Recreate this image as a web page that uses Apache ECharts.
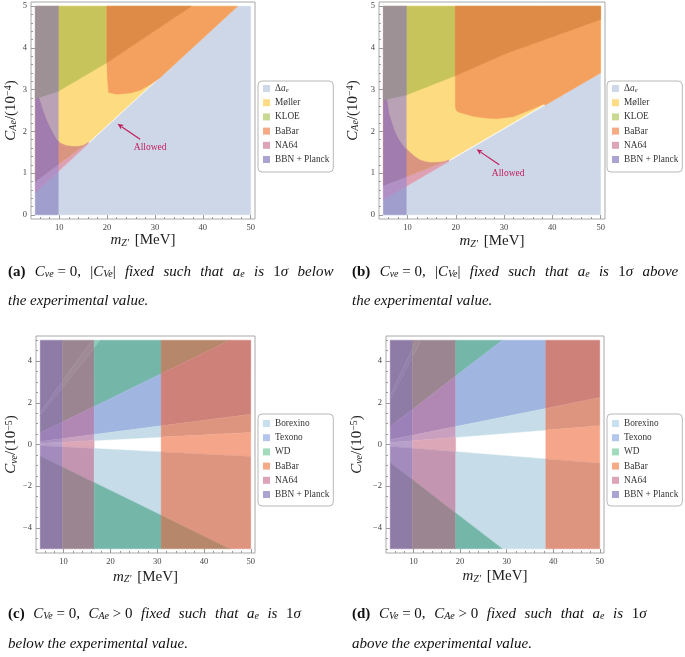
<!DOCTYPE html>
<html><head><meta charset="utf-8">
<script src="https://cdn.jsdelivr.net/npm/echarts@6/dist/echarts.min.js"></script>
<style>html,body{margin:0;padding:0;background:#fff}#c{width:685px;height:657px}</style>
</head><body><div id="c"></div>
<script>
// ================= DATA =================
// Tick positions / labels
const X_MAJOR = [10, 20, 30, 40, 50];
const X_MINOR = [6, 8, 12, 14, 16, 18, 22, 24, 26, 28, 32, 34, 36, 38, 42, 44, 46, 48];
const Y_MAJOR_AB = [0, 1, 2, 3, 4, 5];
const Y_MINOR_AB = [0.2,0.4,0.6,0.8,1.2,1.4,1.6,1.8,2.2,2.4,2.6,2.8,3.2,3.4,3.6,3.8,4.2,4.4,4.6,4.8];
const Y_MAJOR_CD = [-4, -2, 0, 2, 4];
const Y_MINOR_CD = [-5,-4.5,-3.5,-3,-2.5,-1.5,-1,-0.5,0.5,1,1.5,2.5,3,3.5,4.5,5];

// Legend entries
const LEGEND_AB = ['Δae', 'Møller', 'KLOE', 'BaBar', 'NA64', 'BBN + Planck'];
const LEGEND_CD = ['Borexino', 'Texono', 'WD', 'BaBar', 'NA64', 'BBN + Planck'];

// ---- Panel (a): boundary curves [m_Z' (MeV), C_Ae (1e-4)] ----
const A_TOP = [[4, 5], [51, 5]];
const A_BOT = [[4, 0], [51, 0]];
const A_DELTA = [[5, 0.528], [47.3, 5], [50, 5]];
const A_NA64_LOW = [[5, 0.80], [16.1, 1.735]];
const A_MOLLER_LOW = [[5, 0.80], [16.1, 1.735], [47.0, 5.0]];
const A_MOLLER_EDGE = [[5, 3.38], [5.5, 2.95], [6.04, 2.74], [6.7, 2.5], [7.44, 2.27], [8.8, 1.95], [9.66, 1.79],
  [10.1, 1.73], [11.0, 1.68], [11.6, 1.655], [13.0, 1.635], [14.2, 1.645], [15.1, 1.665], [16.1, 1.735]];
const A_KLOE_EDGE = [[5, 2.78], [9.8, 2.96], [19.95, 3.645], [37.6, 5]];
const A_BABAR_EDGE = [[19.95, 3.645], [20.05, 3.3], [20.3, 2.93], [22, 2.89], [25, 2.92], [27, 2.99], [29, 3.12], [31, 3.276], [47.3, 5]];
const A_BBN_EDGE = 9.8;
const A_KLOE_X = [9.8, 19.95];
const A_BABAR_X = [19.95, 47.3];
const A_DARK_X = [19.95, 37.6];

// ---- Panel (b) ----
const B_DELTA = [[5, 0.36], [50, 3.40]];
const B_NA64_LOW = [[5, 0.70], [18.6, 1.312]];
const B_MOLLER_LOW = [[5, 0.70], [18.6, 1.312], [50, 3.433]];
const B_MOLLER_EDGE = [[5, 3.47], [5.56, 2.99], [6.25, 2.43], [7.0, 2.15], [7.64, 1.95], [8.5, 1.77], [9.37, 1.63],
  [10.4, 1.51], [11.5, 1.40], [12.5, 1.32], [13.5, 1.28], [14.6, 1.255], [16.6, 1.262], [17.8, 1.28], [18.6, 1.312]];
const B_KLOE_EDGE = [[5, 2.75], [9.75, 2.87], [19.9, 3.33], [30.5, 3.87], [50, 4.68]];
const B_BABAR_EDGE = [[19.9, 2.58], [20.2, 2.49], [20.6, 2.46], [23.6, 2.36], [26, 2.32], [28.4, 2.30], [31.9, 2.35],
  [35.4, 2.51], [38.1, 2.65], [38.6, 2.63], [50, 3.40]];
const B_BBN_EDGE = 9.75;
const B_KLOE_X = [9.75, 19.9];
const B_BABAR_X = [19.9, 50];

// ---- Panel (c): vertical band edges and wedge slopes (C_nue = s * m_Z') ----
const C_BAND_EDGES = [5, 9.76, 16.53, 30.84, 50];
const C_SLOPES = [0.31, 0.28, 0.11, 0.029, 0.0115, -0.0115, -0.11];
// ---- Panel (d) ----
const D_BAND_EDGES = [5, 9.78, 19.06, 38.4, 50];
const D_SLOPES = [0.47, 0.43, 0.172, 0.045, 0.018, -0.018, -0.172];

// Annotation
const ANNOT_A = { text: 'Allowed', tail: [26.9, 1.81], head: [22.17, 2.18], label: [29.0, 1.61] };
const ANNOT_B = { text: 'Allowed', tail: [29.0, 1.20], head: [24.3, 1.57], label: [30.86, 1.0] };

// ================= STYLES =================
const SERIF = "'Liberation Serif', 'DejaVu Serif', serif";
const LEG_COLORS = {
  'Δae': '#cdd8e9', 'Møller': '#fddc85', 'KLOE': '#c8da92', 'BaBar': '#f6ab87', 'NA64': '#dda3b6',
  'BBN + Planck': '#aca3d3', 'Borexino': '#c8e0ee', 'Texono': '#b5c6ec', 'WD': '#a3dbbd'
};
const COL = {
  delta: '#cdd7e8', moller: '#fddb80', na64tri: '#dea1b3', na64sal: '#d99580', kloe: '#c7c45b',
  babar: '#f4a160', babarDark: '#df8b48',
  bbnDelta: '#a09ecd', bbnTri: '#b190c6', bbnPurple: '#a07dae', bbnMauve: '#b9a2b6', bbnGray: '#9d9196'
};
const C_CELL_COLORS = [
  ['#8e7ba6','#9380ab','#8e7ba6','#9c81b8','#a991c2','#b7a0c9','#a48bbd','#8e7ba6'],
  ['#9a8590','#9f8b96','#9a8590','#b088b3','#c9a0c0','#dca8b8','#c495b0','#9a8590'],
  ['#74b6a8','#8ccab8','#74b6a8','#a0b6e0','#c6dde9',null,'#c6dde9','#74b6a8'],
  ['#b7876b','#b7876b','#b7876b','#cd8178','#dd9580','#f5a68a','#dd9580','#b7876b']
];
const D_CELL_COLORS = [
  ['#8e7ba6','#9380ab','#8e7ba6','#9c81b8','#a991c2','#b7a0c9','#a48bbd','#8e7ba6'],
  ['#9a8590','#9f8b96','#9a8590','#b088b3','#c9a0c0','#dca8b8','#c495b0','#9a8590'],
  ['#74b6a8','#74b6a8','#74b6a8','#a0b6e0','#c6dde9',null,'#c6dde9','#74b6a8'],
  ['#cd8178','#cd8178','#cd8178','#cd8178','#dd9580','#f5a68a','#dd9580','#dd9580']
];
const CD_OWNERS = [
  ['BBN + Planck','BBN + Planck','BBN + Planck','BBN + Planck','BBN + Planck','BBN + Planck','BBN + Planck','BBN + Planck'],
  ['NA64','NA64','NA64','NA64','NA64','NA64','NA64','NA64'],
  ['WD','WD','WD','Texono','Borexino',null,'Borexino','WD'],
  ['BaBar','BaBar','BaBar','BaBar','BaBar','BaBar','BaBar','BaBar']
];

// ================= GEOMETRY HELPERS =================
function interp(curve, x) {
  if (x <= curve[0][0]) return curve[0][1];
  const n = curve.length;
  if (x >= curve[n - 1][0]) return curve[n - 1][1];
  for (let i = 0; i < n - 1; i++) {
    const [x0, y0] = curve[i], [x1, y1] = curve[i + 1];
    if (x >= x0 && x <= x1) return x1 === x0 ? y1 : y0 + (y1 - y0) * (x - x0) / (x1 - x0);
  }
  return curve[n - 1][1];
}
function band(x0, x1, lo, hi) {
  const xs = [x0, x1];
  lo.concat(hi).forEach(p => { if (p[0] > x0 && p[0] < x1) xs.push(p[0]); });
  xs.sort((a, b) => a - b);
  const upper = xs.map(x => [x, interp(hi, x)]);
  const lower = xs.slice().reverse().map(x => [x, interp(lo, x)]);
  return upper.concat(lower);
}
function clipY(poly, yLim, keepBelow) {
  const out = [];
  const inside = p => keepBelow ? p[1] <= yLim : p[1] >= yLim;
  for (let i = 0; i < poly.length; i++) {
    const a = poly[i], b = poly[(i + 1) % poly.length];
    const ia = inside(a), ib = inside(b);
    if (ia) out.push(a);
    if (ia !== ib) {
      const t = (yLim - a[1]) / (b[1] - a[1]);
      out.push([a[0] + t * (b[0] - a[0]), yLim]);
    }
  }
  return out;
}
function wedgeCells(edges, slopes, colors, owners, yMin, yMax) {
  const bounds = [null].concat(slopes).concat([null]);
  const cells = [];
  for (let b = 0; b < edges.length - 1; b++) {
    const x0 = edges[b], x1 = edges[b + 1];
    for (let w = 0; w < bounds.length - 1; w++) {
      if (!colors[b][w]) continue;
      const yu = x => bounds[w] === null ? yMax + 1 : bounds[w] * x;
      const yl = x => bounds[w + 1] === null ? yMin - 1 : bounds[w + 1] * x;
      let poly = [[x0, yu(x0)], [x1, yu(x1)], [x1, yl(x1)], [x0, yl(x0)]];
      poly = clipY(poly, yMax, true);
      poly = clipY(poly, yMin, false);
      if (poly.length >= 3) cells.push({ s: owners[b][w], color: colors[b][w], pts: poly });
    }
  }
  return cells;
}

// ================= REGIONS (painter order) =================
const REG_A = [
  { s: 'Δae', color: COL.delta, pts: band(5, 50, A_BOT, A_DELTA) },
  { s: 'Møller', color: COL.moller, pts: band(5, 47.0, A_MOLLER_LOW, A_TOP) },
  { s: 'NA64', color: COL.na64tri, pts: band(5, 16.1, A_DELTA, A_NA64_LOW) },
  { s: 'NA64', color: COL.na64sal, pts: band(5, 16.1, A_NA64_LOW, A_MOLLER_EDGE) },
  { s: 'KLOE', color: COL.kloe, pts: band(A_KLOE_X[0], A_KLOE_X[1], A_KLOE_EDGE, A_TOP) },
  { s: 'BaBar', color: COL.babar, pts: band(A_BABAR_X[0], A_BABAR_X[1], A_BABAR_EDGE, A_TOP) },
  { s: 'BaBar', color: COL.babarDark, pts: band(A_DARK_X[0], A_DARK_X[1], A_KLOE_EDGE, A_TOP) },
  { s: 'BBN + Planck', color: COL.bbnDelta, pts: band(5, A_BBN_EDGE, A_BOT, A_DELTA) },
  { s: 'BBN + Planck', color: COL.bbnTri, pts: band(5, A_BBN_EDGE, A_DELTA, A_NA64_LOW) },
  { s: 'BBN + Planck', color: COL.bbnPurple, pts: band(5, A_BBN_EDGE, A_NA64_LOW, A_MOLLER_EDGE) },
  { s: 'BBN + Planck', color: COL.bbnMauve, pts: band(5, A_BBN_EDGE, A_MOLLER_EDGE, A_TOP) },
  { s: 'BBN + Planck', color: COL.bbnGray, pts: band(5, A_BBN_EDGE, A_KLOE_EDGE, A_TOP) }
];
const REG_B = [
  { s: 'Δae', color: COL.delta, pts: band(5, 50, A_BOT, B_DELTA) },
  { s: 'Møller', color: COL.moller, pts: band(5, 50, B_MOLLER_LOW, A_TOP) },
  { s: 'NA64', color: COL.na64tri, pts: band(5, 18.6, B_DELTA, B_NA64_LOW) },
  { s: 'NA64', color: COL.na64sal, pts: band(5, 18.6, B_NA64_LOW, B_MOLLER_EDGE) },
  { s: 'KLOE', color: COL.kloe, pts: band(B_KLOE_X[0], B_KLOE_X[1], B_KLOE_EDGE, A_TOP) },
  { s: 'BaBar', color: COL.babar, pts: band(B_BABAR_X[0], B_BABAR_X[1], B_BABAR_EDGE, A_TOP) },
  { s: 'BaBar', color: COL.babarDark, pts: band(B_BABAR_X[0], B_BABAR_X[1], B_KLOE_EDGE, A_TOP) },
  { s: 'BBN + Planck', color: COL.bbnDelta, pts: band(5, B_BBN_EDGE, A_BOT, B_DELTA) },
  { s: 'BBN + Planck', color: COL.bbnTri, pts: band(5, B_BBN_EDGE, B_DELTA, B_NA64_LOW) },
  { s: 'BBN + Planck', color: COL.bbnPurple, pts: band(5, B_BBN_EDGE, B_NA64_LOW, B_MOLLER_EDGE) },
  { s: 'BBN + Planck', color: COL.bbnMauve, pts: band(5, B_BBN_EDGE, B_MOLLER_EDGE, A_TOP) },
  { s: 'BBN + Planck', color: COL.bbnGray, pts: band(5, B_BBN_EDGE, B_KLOE_EDGE, A_TOP) }
];
const REG_C = wedgeCells(C_BAND_EDGES, C_SLOPES, C_CELL_COLORS, CD_OWNERS, -5, 5);
const REG_D = wedgeCells(D_BAND_EDGES, D_SLOPES, D_CELL_COLORS, CD_OWNERS, -5, 5);

// ================= CHART =================
const GRIDS = [
  { left: 31, top: 2, width: 224, height: 217 },
  { left: 379, top: 2, width: 226, height: 217 },
  { left: 36, top: 336, width: 219, height: 217 },
  { left: 386, top: 336, width: 218, height: 217 }
];
const XNAME_GAP = [13, 15, 16.5, 16];
const YNAME_GAP = [11.5, 18.5, 16.5, 21.5];
const AXIS_GRAY = '#9a9a9a';
const fmtNum = v => (v < 0 ? '−' + Math.abs(v) : String(v));

const xAxes = [], yAxes = [];
GRIDS.forEach((g, p) => {
  const isAB = p < 2;
  xAxes.push({
    type: 'value', gridIndex: p, min: 4.1, max: 50.9, position: 'bottom',
    name: '{i|m}{s|Z′} [MeV]', nameLocation: 'middle', nameGap: XNAME_GAP[p],
    nameTextStyle: { fontFamily: SERIF, fontSize: 15, color: '#222',
      rich: { i: { fontFamily: SERIF, fontSize: 15, fontStyle: 'italic', color: '#222' },
              s: { fontFamily: SERIF, fontSize: 10, fontStyle: 'italic', color: '#222', verticalAlign: 'bottom', padding: [0, 2, 0, 0] } } },
    axisLine: { show: false, onZero: false }, splitLine: { show: false },
    axisTick: { show: true, inside: true, length: 4, customValues: X_MAJOR, lineStyle: { color: AXIS_GRAY, width: 1 } },
    axisLabel: { customValues: X_MAJOR, formatter: fmtNum, fontFamily: SERIF, fontSize: 8.5, color: '#444', margin: 4 }
  });
  xAxes.push({
    type: 'value', gridIndex: p, min: 4.1, max: 50.9, position: 'bottom', offset: 0,
    axisLine: { show: false, onZero: false }, splitLine: { show: false }, axisLabel: { show: false },
    axisTick: { show: true, inside: true, length: 2, customValues: X_MINOR, lineStyle: { color: AXIS_GRAY, width: 1 } }
  });
  const yMaj = isAB ? Y_MAJOR_AB : Y_MAJOR_CD, yMin = isAB ? Y_MINOR_AB : Y_MINOR_CD;
  yAxes.push({
    type: 'value', gridIndex: p, min: isAB ? -0.1 : -5.2, max: isAB ? 5.1 : 5.2, position: 'left',
    name: isAB ? '{i|C}{s|Ae}/(10{p|−4})' : '{i|C}{s|νe}/(10{p|−5})',
    nameLocation: 'middle', nameGap: YNAME_GAP[p], nameRotate: 90,
    nameTextStyle: { fontFamily: SERIF, fontSize: 15, color: '#222',
      rich: { i: { fontFamily: SERIF, fontSize: 15, fontStyle: 'italic', color: '#222' },
              s: { fontFamily: SERIF, fontSize: 10, fontStyle: 'italic', color: '#222', verticalAlign: 'bottom' },
              p: { fontFamily: SERIF, fontSize: 10, color: '#222', verticalAlign: 'top' } } },
    axisLine: { show: false, onZero: false }, splitLine: { show: false },
    axisTick: { show: true, inside: true, length: 4, customValues: yMaj, lineStyle: { color: AXIS_GRAY, width: 1 } },
    axisLabel: { customValues: yMaj, formatter: fmtNum, fontFamily: SERIF, fontSize: 8.5, color: '#444', margin: 4 }
  });
  yAxes.push({
    type: 'value', gridIndex: p, min: isAB ? -0.1 : -5.2, max: isAB ? 5.1 : 5.2, position: 'left', offset: 0,
    axisLine: { show: false, onZero: false }, splitLine: { show: false }, axisLabel: { show: false },
    axisTick: { show: true, inside: true, length: 2, customValues: yMin, lineStyle: { color: AXIS_GRAY, width: 1 } }
  });
});

let zCounter = 0;
function regionSeries(p, regions, names) {
  const base = zCounter; zCounter += regions.length;
  return names.map(nm => ({
    type: 'custom', name: nm, xAxisIndex: 2 * p, yAxisIndex: 2 * p, silent: true, animation: false,
    itemStyle: { color: LEG_COLORS[nm] },
    data: regions.map((r, i) => (r.s === nm ? [i] : null)).filter(v => v),
    renderItem: (params, api) => {
      const idx = api.value(0);
      const r = regions[idx];
      return { type: 'polygon', z2: base + idx,
        shape: { points: r.pts.map(pt => api.coord(pt)) },
        style: { fill: r.color, stroke: r.color, lineWidth: 0.4 } };
    }
  }));
}
function annotSeries(p, an) {
  return {
    type: 'custom', xAxisIndex: 2 * p, yAxisIndex: 2 * p, silent: true, animation: false, z: 5,
    data: [[0]],
    renderItem: (params, api) => {
      const t = api.coord(an.tail), h = api.coord(an.head), l = api.coord(an.label);
      const dx = h[0] - t[0], dy = h[1] - t[1], len = Math.hypot(dx, dy);
      const ux = dx / len, uy = dy / len, nx = -uy, ny = ux;
      const bl = 6, bw = 2.6;
      const bx = h[0] - ux * bl, by = h[1] - uy * bl;
      const col = '#c21e5c';
      return { type: 'group', children: [
        { type: 'line', shape: { x1: t[0], y1: t[1], x2: bx + ux * 1, y2: by + uy * 1 }, style: { stroke: col, lineWidth: 1.2 } },
        { type: 'polygon', shape: { points: [[h[0], h[1]], [bx + nx * bw, by + ny * bw], [bx + ux * 1.5, by + uy * 1.5], [bx - nx * bw, by - ny * bw]] }, style: { fill: col } },
        { type: 'text', x: l[0], y: l[1], style: { text: an.text, fill: col, font: "9.5px 'Liberation Serif'", align: 'center', verticalAlign: 'middle' } }
      ] };
    }
  };
}

const series = []
  .concat(regionSeries(0, REG_A, LEGEND_AB))
  .concat(regionSeries(1, REG_B, LEGEND_AB))
  .concat(regionSeries(2, REG_C, LEGEND_CD))
  .concat(regionSeries(3, REG_D, LEGEND_CD))
  .concat([annotSeries(0, ANNOT_A), annotSeries(1, ANNOT_B)]);

function legendCfg(names, left, top, padTop, padBottom) {
  return {
    data: names, orient: 'vertical', left: left, top: top, icon: 'rect', itemWidth: 7, itemHeight: 7, itemGap: 3.2,
    padding: [padTop, 4, padBottom, 5], borderColor: '#b8b8b8', borderWidth: 1, borderRadius: 4, backgroundColor: '#fff',
    selectedMode: false,
    formatter: n => (n === 'Δae' ? '{t|Δ}{i|a}{s|e}' : '{t|' + n + '}'),
    textStyle: { fontFamily: SERIF, fontSize: 9.3, color: '#333', lineHeight: 11,
      rich: { t: { fontFamily: SERIF, fontSize: 9.3, color: '#333', lineHeight: 11 },
              i: { fontFamily: SERIF, fontSize: 9.3, fontStyle: 'italic', color: '#333', lineHeight: 11 },
              s: { fontFamily: SERIF, fontSize: 6.5, fontStyle: 'italic', color: '#333', verticalAlign: 'bottom', lineHeight: 11 } } }
  };
}

function capRich(spaceW) {
  return {
    b: { fontFamily: SERIF, fontSize: 15, fontWeight: 'bold', color: '#111' },
    i: { fontFamily: SERIF, fontSize: 15, fontStyle: 'italic', color: '#111' },
    u: { fontFamily: SERIF, fontSize: 15, color: '#111' },
    w: { fontFamily: SERIF, fontSize: 15, color: '#111', width: spaceW },
    s: { fontFamily: SERIF, fontSize: 10, fontStyle: 'italic', color: '#111', verticalAlign: 'bottom' }
  };
}
// justified first lines: stretchable spaces are {w| }
const CAPTIONS = [
  { x: 8, y: 272, w: 9.3, t: '{b|(a)}{w| }{i|C}{s|νe}{u| = 0,}{w| }{u||}{i|C}{s|Ve}{u||}{w| }{i|fixed}{w| }{i|such}{w| }{i|that}{w| }{i|a}{s|e}{w| }{i|is}{w| }{u|1}{i|σ}{w| }{i|below}' },
  { x: 8, y: 301, w: 3.75, t: '{i|the experimental value.}' },
  { x: 352, y: 272, w: 9.3, t: '{b|(b)}{w| }{i|C}{s|νe}{u| = 0,}{w| }{u||}{i|C}{s|Ve}{u||}{w| }{i|fixed}{w| }{i|such}{w| }{i|that}{w| }{i|a}{s|e}{w| }{i|is}{w| }{u|1}{i|σ}{w| }{i|above}' },
  { x: 352, y: 301, w: 3.75, t: '{i|the experimental value.}' },
  { x: 8, y: 614, w: 8.6, t: '{b|(c)}{w| }{i|C}{s|Ve}{u| = 0,}{w| }{i|C}{s|Ae}{u| > 0}{w| }{i|fixed}{w| }{i|such}{w| }{i|that}{w| }{i|a}{s|e}{w| }{i|is}{w| }{u|1}{i|σ}' },
  { x: 8, y: 644, w: 3.75, t: '{i|below the experimental value.}' },
  { x: 352, y: 614, w: 8.6, t: '{b|(d)}{w| }{i|C}{s|Ve}{u| = 0,}{w| }{i|C}{s|Ae}{u| > 0}{w| }{i|fixed}{w| }{i|such}{w| }{i|that}{w| }{i|a}{s|e}{w| }{i|is}{w| }{u|1}{i|σ}' },
  { x: 352, y: 644, w: 3.75, t: '{i|above the experimental value.}' }
];

const chart = echarts.init(document.getElementById('c'), null, { renderer: 'canvas' });
chart.setOption({
  animation: false,
  backgroundColor: '#fff',
  textStyle: { fontFamily: SERIF },
  grid: GRIDS.map(g => Object.assign({ show: true, borderColor: '#a8a8a8', borderWidth: 1, backgroundColor: 'transparent', containLabel: false, outerBoundsMode: 'none' }, g)),
  xAxis: xAxes,
  yAxis: yAxes,
  legend: [
    legendCfg(LEGEND_AB, 258, 81, 2, 7),
    legendCfg(LEGEND_AB, 607, 81, 2, 7),
    legendCfg(LEGEND_CD, 258, 414, 4, 6),
    legendCfg(LEGEND_CD, 607, 414, 4, 6)
  ],
  series: series,
  graphic: CAPTIONS.map(c => ({ type: 'text', x: c.x, y: c.y, silent: true,
    style: { text: c.t, rich: capRich(c.w), font: "15px 'Liberation Serif'", fill: '#111', verticalAlign: 'middle', align: 'left' } }))
});
</script>
</body></html>
